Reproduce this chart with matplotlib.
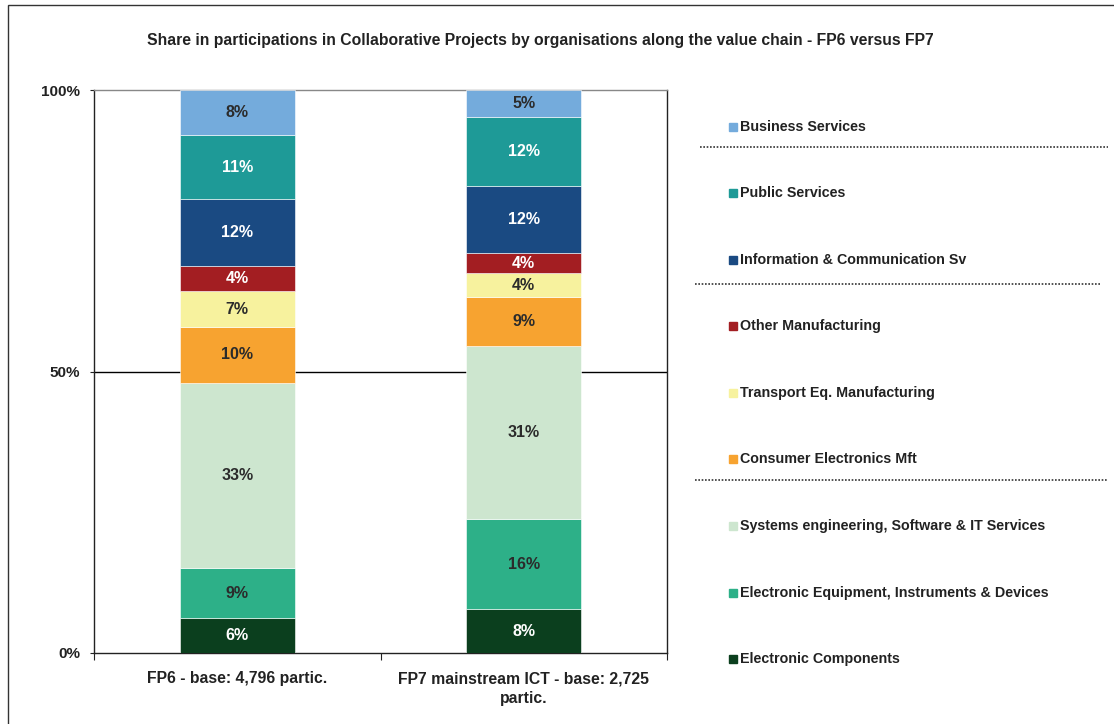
import matplotlib
matplotlib.use("Agg")
import matplotlib.pyplot as plt
import matplotlib.patches as mpatches
from matplotlib.lines import Line2D
import numpy as np

plt.rcParams['font.family'] = ['Liberation Sans', 'DejaVu Sans']

categories = ["FP6 - base: 4,796 partic.", "FP7 mainstream ICT - base: 2,725\npartic."]
series = ["Electronic Components",
          "Electronic Equipment, Instruments & Devices",
          "Systems engineering, Software & IT Services",
          "Consumer Electronics Mft",
          "Transport Eq. Manufacturing",
          "Other Manufacturing",
          "Information & Communication Sv",
          "Public Services",
          "Business Services"]
fp6_values = [6.2, 8.9, 32.9, 9.9, 6.4, 4.4, 11.9, 11.4, 8.0]
fp7_values = [7.8, 16.0, 30.7, 8.7, 4.3, 3.5, 11.9, 12.3, 4.8]
fp6_labels = ["6%", "9%", "33%", "10%", "7%", "4%", "12%", "11%", "8%"]
fp7_labels = ["8%", "16%", "31%", "9%", "4%", "4%", "12%", "12%", "5%"]
colors = ["#0B3F1E", "#2DB088", "#CDE6CF", "#F7A330", "#F7F29E",
          "#A31E22", "#1A4A82", "#1E9A97", "#74ABDC"]
text_colors = ["white", "#2b2b2b", "#2b2b2b", "#2b2b2b", "#2b2b2b",
               "white", "white", "white", "#2b2b2b"]

W, H = 1114, 724
fig = plt.figure(figsize=(W / 100, H / 100), dpi=100)
ax = fig.add_axes([94 / W, 1 - 653 / H, (667 - 94) / W, (653 - 90) / H])

values = np.array([fp6_values, fp7_values]).T  # series x categories
labels = [fp6_labels, fp7_labels]
x = np.arange(len(categories))
bottom = np.zeros(len(categories))
for i, name in enumerate(series):
    ax.bar(x, values[i], 0.40, bottom=bottom, color=colors[i], label=name,
           edgecolor='white', linewidth=0.4, zorder=3)
    for j in range(len(categories)):
        ax.text(x[j], bottom[j] + values[i][j] / 2, labels[j][i],
                ha='center', va='center', fontsize=11.5, fontweight='bold',
                color=text_colors[i], zorder=4)
    bottom += values[i]

ax.set_xlim(-0.5, 1.5)
ax.set_ylim(0, 100)
ax.set_yticks([0, 50, 100])
ax.set_yticklabels(["0%", "50%", "100%"], fontsize=11, fontweight='bold', color='#222222')
ax.set_xticks([-0.5, 0.5, 1.5], minor=False)
ax.set_xticklabels([])
ax.set_xticks(x, minor=True)
ax.set_xticklabels(categories, minor=True, fontsize=11.3, fontweight='bold',
                   color='#222222', linespacing=1.45)
ax.tick_params(axis='x', which='minor', length=0, pad=13)
ax.tick_params(axis='x', which='major', length=5, direction='out', color='#222222')
ax.tick_params(axis='y', length=3, direction='out', color='#222222', pad=7)
ax.axhline(50, color='black', linewidth=1, zorder=2)
ax.spines['top'].set_color('#888888')
ax.spines['left'].set_color('#222222')
ax.spines['bottom'].set_color('#222222')
ax.spines['right'].set_color('#222222')
for s in ax.spines.values():
    s.set_linewidth(1)

# Title
fig.text(540 / W, 1 - 40 / H,
         "Share in participations in Collaborative Projects by organisations along the value chain - FP6 versus FP7",
         ha='center', va='center', fontsize=11.3, fontweight='bold', color='#222222')

# Legend (manual, top to bottom)
leg_y = [127, 193, 260, 326, 393, 459, 526, 593, 659]
for k, name in enumerate(series[::-1]):
    idx = len(series) - 1 - k
    y = 1 - leg_y[k] / H
    fig.patches.append(mpatches.Rectangle((729 / W, y - 4 / H), 8 / W, 8 / H,
                                          transform=fig.transFigure, color=colors[idx]))
    fig.text(740 / W, y, name, ha='left', va='center', fontsize=10.3,
             fontweight='bold', color='#222222')

for (yy, x0, x1) in [(147, 700, 1108), (284, 695, 1100), (480, 695, 1107)]:
    fig.lines.append(Line2D([x0 / W, x1 / W], [1 - yy / H, 1 - yy / H],
                            transform=fig.transFigure, color='#333333',
                            linestyle=(0, (1, 1)), linewidth=1.2))

# Outer frame
fig.patches.append(mpatches.Rectangle((8 / W, -0.1), 1.2, 1 - 5 / H + 0.1,
                                      transform=fig.transFigure, fill=False,
                                      edgecolor='#333333', linewidth=1))

fig.savefig("out.png", dpi=100)
